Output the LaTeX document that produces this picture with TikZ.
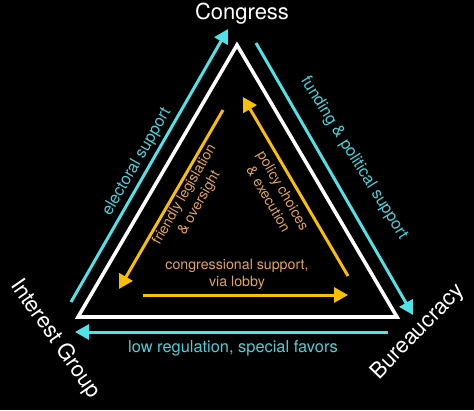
\documentclass[tikz,border=0pt]{standalone}
\usepackage{fontspec}
\setmainfont{TeX Gyre Heros}
\usetikzlibrary{arrows.meta}
\definecolor{cyanline}{HTML}{4FE3E8}
\definecolor{cyantext}{HTML}{45D2DA}
\definecolor{goldline}{HTML}{F8C000}
\definecolor{tantext}{HTML}{E3A455}
\tikzset{
  whiteside/.style={draw=white, line width=3.6pt, line join=miter},
  cyanarrow/.style={draw=cyanline, line width=3pt, -{Triangle[length=14pt,width=15pt]}},
  goldarrow/.style={draw=goldline, line width=3pt, -{Triangle[length=14pt,width=15pt]}},
  vertexlabel/.style={text=white, font=\fontsize{22}{24}\selectfont, inner sep=0pt},
  outerlabel/.style={text=cyantext, font=\fontsize{16.4}{18}\selectfont, inner sep=0pt},
  innerlabel/.style={text=tantext, font=\fontsize{14.2}{17}\selectfont, inner sep=0pt, align=center}
}
\begin{document}
\begin{tikzpicture}[x=1pt,y=-1pt]
\fill[black] (0,0) rectangle (474,410);
\useasboundingbox (0,0) rectangle (474,410);
% triangle vertices
\coordinate (top) at (237,45);
\coordinate (bl) at (78,317);
\coordinate (br) at (397,317);
\draw[whiteside] (top) -- (bl) -- (br) -- cycle;
% cyan arrow end points
\coordinate (c1s) at (71,302);
\coordinate (c1e) at (228,29);
\coordinate (c2s) at (256,43);
\coordinate (c2e) at (413,315);
\coordinate (c3s) at (388,332);
\coordinate (c3e) at (75,332);
\draw[cyanarrow] (c1s) -- (c1e);
\draw[cyanarrow] (c2s) -- (c2e);
\draw[cyanarrow] (c3s) -- (c3e);
% gold arrows
\coordinate (g1s) at (223,110);
\coordinate (g1e) at (119,289);
\coordinate (g2s) at (348,276);
\coordinate (g2e) at (243,97);
\coordinate (g3s) at (143,295);
\coordinate (g3e) at (348,295);
\draw[goldarrow] (g1s) -- (g1e);
\draw[goldarrow] (g2s) -- (g2e);
\draw[goldarrow] (g3s) -- (g3e);
% vertex labels
\node[vertexlabel] (congress) at (242,14) {Congress};
\node[vertexlabel, rotate=-55] (interest) at (55,339) {Interest Group};
\node[vertexlabel, rotate=46] (bureau) at (418,332) {Bureaucracy};
% outer labels
\node[outerlabel, rotate=60] (electoral) at (137,162) {electoral support};
\node[outerlabel, rotate=-58] (funding) at (354,158) {funding \& political support};
\node[outerlabel] (lowreg) at (233,348) {low regulation, special favors};
% inner labels
\node[innerlabel] (congsup) at (237,274) {congressional support,\\via lobby};
\node[innerlabel, rotate=60] (friendly) at (192,199) {friendly legislation\\\& oversight};
\node[innerlabel, rotate=-60] (policy) at (276,195) {policy choices\\\& execution};
\end{tikzpicture}
\end{document}
